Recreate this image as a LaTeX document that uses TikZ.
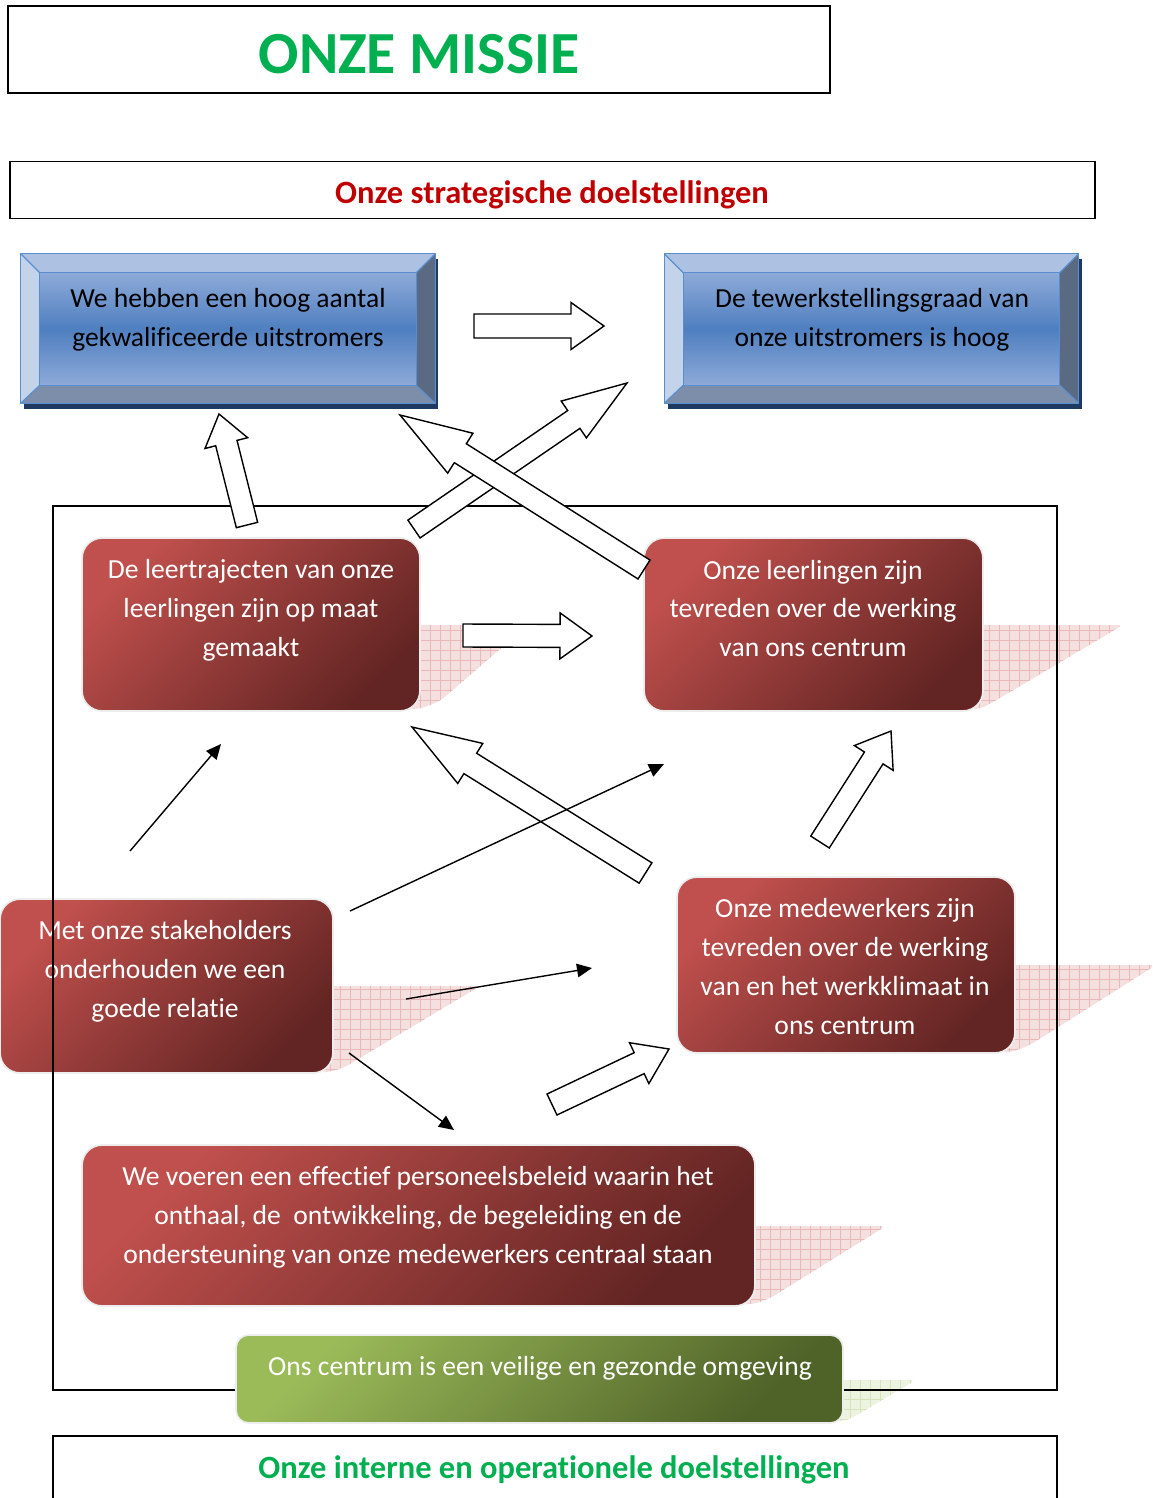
\documentclass[tikz,border=0pt]{standalone}
\usepackage{fontspec}
\setmainfont{Carlito}[Ligatures={NoCommon,NoRequired,NoContextual},RawFeature={-liga;-clig;-dlig}]
\usetikzlibrary{calc,arrows.meta}
\definecolor{titlegreen}{HTML}{00B050}
\definecolor{titlered}{HTML}{C00000}
\definecolor{redA}{HTML}{C0504D}
\definecolor{redB}{HTML}{632523}
\definecolor{greenA}{HTML}{9BBB59}
\definecolor{greenB}{HTML}{4F6228}
\definecolor{bevTop}{HTML}{ADC2E3}
\definecolor{bevLeft}{HTML}{C3D3EA}
\definecolor{bevRight}{HTML}{5A6A82}
\definecolor{bevBot}{HTML}{7D8EAA}
\definecolor{faceA}{HTML}{8EAAD8}
\definecolor{faceB}{HTML}{4F7FC0}
\definecolor{bevLine}{HTML}{5B8ECF}
\definecolor{blueShadow}{HTML}{1F3A60}
\definecolor{pinkFill}{HTML}{F5E0E0}
\definecolor{pinkGrid}{HTML}{E9B8B8}
\definecolor{lgFill}{HTML}{EDF3E1}
\definecolor{lgGrid}{HTML}{D5E3BA}
\newcommand\blockarrow[5]{%
  \path ($(#2)!#5*0.02cm!(#1)$) coordinate (#2base);
  \draw[blockarr] ($(#1)!#3*0.02cm!90:(#2)$) -- ($(#2base)!#3*0.02cm!-90:(#1)$)
    -- ($(#2base)!#4*0.02cm!-90:(#1)$) -- (#2) -- ($(#2base)!#4*0.02cm!90:(#1)$)
    -- ($(#2base)!#3*0.02cm!90:(#1)$) -- ($(#1)!#3*0.02cm!-90:(#2)$) -- cycle;
}
\newcommand\bevelbox[2]{%
  \fill[blueShadow] ($(#2)+(-204,-70)$) rectangle ($(#2)+(210,80)$);
  \node[bluebox] (#1) at (#2) {};
  \fill[bevTop] (#1.north west) -- (#1.north east) -- ($(#1.north east)+(-19,19)$) -- ($(#1.north west)+(19,19)$) -- cycle;
  \fill[bevLeft] (#1.north west) -- ($(#1.north west)+(19,19)$) -- ($(#1.south west)+(19,-18)$) -- (#1.south west) -- cycle;
  \fill[bevRight] (#1.north east) -- (#1.south east) -- ($(#1.south east)+(-19,-18)$) -- ($(#1.north east)+(-19,19)$) -- cycle;
  \fill[bevBot] (#1.south west) -- (#1.south east) -- ($(#1.south east)+(-19,-18)$) -- ($(#1.south west)+(19,-18)$) -- cycle;
  \shade[top color=faceA, bottom color=faceA, middle color=faceB] ($(#1.north west)+(19,19)$) rectangle ($(#1.south east)+(-19,-18)$);
  \draw[bevline] (#1.north west) rectangle (#1.south east);
  \draw[bevline] ($(#1.north west)+(19,19)$) rectangle ($(#1.south east)+(-19,-18)$);
  \draw[bevline] (#1.north west) -- ($(#1.north west)+(19,19)$);
  \draw[bevline] (#1.north east) -- ($(#1.north east)+(-19,19)$);
  \draw[bevline] (#1.south west) -- ($(#1.south west)+(19,-18)$);
  \draw[bevline] (#1.south east) -- ($(#1.south east)+(-19,-18)$);
}
\newcommand\gridshadow[3]{%
  \begin{scope}
    \clip[rounded corners=0.12cm] #1;
    \fill[#2] (0,0) rectangle (1153,1498);
    \draw[#3, line width=0.35pt, step=0.2cm] (0,0) grid (1153,1498);
  \end{scope}
}
\begin{document}
\begin{tikzpicture}[x=0.02cm,y=-0.02cm,
  framebox/.style={draw=black,line width=0.85pt},
  blockarr/.style={draw=black,fill=white,line width=0.8pt,line join=miter},
  thinarr/.style={draw=black,line width=0.8pt,-{Triangle[length=0.3cm,width=0.27cm]}},
  bluebox/.style={minimum width=8.28cm,minimum height=2.98cm,inner sep=0pt},
  bevline/.style={draw=bevLine,line width=0.7pt},
  bluetext/.style={align=center,text=black,font=\fontsize{15.7}{22.1}\selectfont,inner sep=0pt},
  redbox/.style={rounded corners=0.4cm,draw=black!7,line width=1pt,top color=redA,bottom color=redB,shading angle=45,inner sep=0pt},
  greenbox/.style={rounded corners=0.25cm,draw=black!7,line width=1pt,top color=greenA,bottom color=greenB,shading angle=45,inner sep=0pt},
  whitetext/.style={align=center,text=white,font=\fontsize{15.7}{22.1}\selectfont,inner sep=0pt},
  headtext/.style={font=\bfseries\fontsize{18.5}{22}\selectfont,inner sep=0pt,anchor=base}]
\useasboundingbox (0,0) rectangle (1153,1498);

% title and header
\node[framebox,minimum width=16.44cm,minimum height=1.74cm,inner sep=0pt] (title) at (419,49.5) {};
\node[inner sep=0pt,anchor=base,text=titlegreen,font=\bfseries\fontsize{34}{40}\selectfont] (titlet) at (419,73) {ONZE MISSIE};
\node[framebox,minimum width=21.7cm,minimum height=1.14cm,inner sep=0pt] (strat) at (552.5,190) {};
\node[headtext,text=titlered] (stratt) at (552,203) {Onze strategische doelstellingen};

% blue bevel boxes
\bevelbox{g1}{228,328.5}
\node[bluetext] (g1t) at (228,320) {We hebben een hoog aantal\\gekwalificeerde uitstromers};
\bevelbox{g2}{871.5,328.5}
\node[bluetext] (g2t) at (872,320) {De tewerkstellingsgraad van\\onze uitstromers is hoog};

% shadows under the frame
\gridshadow{(320,986) -- (480,986) -- (345,1067) -- (330,1072) -- (320,1072) -- cycle}{pinkFill}{pinkGrid}
\gridshadow{(970,625) -- (1123,625) -- (995,701) -- (980,709) -- (970,709) -- cycle}{pinkFill}{pinkGrid}
\gridshadow{(1000,965) -- (1156,965) -- (1030,1045) -- (1012,1052) -- (1000,1052) -- cycle}{pinkFill}{pinkGrid}
\gridshadow{(830,1380) -- (916,1380) -- (852,1418) -- (843,1421) -- (830,1421) -- cycle}{lgFill}{lgGrid}
\gridshadow{(400,625) -- (528,625) -- (440,701) -- (420,709) -- (400,709) -- cycle}{pinkFill}{pinkGrid}
\gridshadow{(740,1226) -- (886,1226) -- (772,1297) -- (755,1304) -- (740,1304) -- cycle}{pinkFill}{pinkGrid}

% box under the frame
\node[redbox,minimum width=6.66cm,minimum height=3.48cm] (b3) at (166.5,986) {};
\node[whitetext] (b3t) at (165,971.5) {Met onze stakeholders\\onderhouden we een\\goede relatie};

% frame
\node[framebox,minimum width=20.08cm,minimum height=17.68cm,inner sep=0pt] (frame) at (555,948) {};

% red boxes
\node[redbox,minimum width=6.76cm,minimum height=3.46cm] (b1) at (251,624.5) {};
\node[whitetext] (b1t) at (251,610.5) {De leertrajecten van onze\\leerlingen zijn op maat\\gemaakt};
\node[redbox,minimum width=6.78cm,minimum height=3.46cm] (b2) at (813.5,624.5) {};
\node[whitetext] (b2t) at (813,608.5) {Onze leerlingen zijn\\tevreden over de werking\\van ons centrum};
\node[redbox,minimum width=6.76cm,minimum height=3.52cm] (b4) at (846,965) {};
\node[whitetext] (b4t) at (845,966.5) {Onze medewerkers zijn\\tevreden over de werking\\van en het werkklimaat in\\ons centrum};
\node[redbox,minimum width=13.46cm,minimum height=3.22cm] (b5) at (418.5,1225.5) {};
\node[whitetext] (b5t) at (418,1217.5) {We voeren een effectief personeelsbeleid waarin het\\onthaal, de\ \ ontwikkeling, de begeleiding en de\\ondersteuning van onze medewerkers centraal staan};
\node[greenbox,minimum width=12.14cm,minimum height=1.76cm] (gr) at (539.5,1379) {};
\node[whitetext] (grt) at (540,1368) {Ons centrum is een veilige en gezonde omgeving};

% bottom header (open at the bottom)
\draw[framebox] (53,1510) -- (53,1436) -- (1057,1436) -- (1057,1510);
\node[headtext,text=titlegreen] (intt) at (554,1478) {Onze interne en operationele doelstellingen};

% block arrows
\coordinate (a1s) at (474,326); \coordinate (a1e) at (604,326);
\blockarrow{a1s}{a1e}{12}{23.5}{33}
\coordinate (a4s) at (247,525); \coordinate (a4e) at (219,414);
\blockarrow{a4s}{a4e}{11}{22}{30}
\coordinate (a2s) at (414,529); \coordinate (a2e) at (627,383);
\blockarrow{a2s}{a2e}{10.8}{22.3}{64.5}
\coordinate (a3s) at (644,569.5); \coordinate (a3e) at (400,415);
\blockarrow{a3s}{a3e}{11.2}{23.6}{71.4}
\coordinate (a5s) at (463,635.5); \coordinate (a5e) at (592,636);
\blockarrow{a5s}{a5e}{11.5}{23}{32}
\coordinate (a6s) at (645.5,873); \coordinate (a6e) at (412,727);
\blockarrow{a6s}{a6e}{12}{23.6}{68.7}
\coordinate (a7s) at (552,1104.5); \coordinate (a7e) at (669,1049);
\blockarrow{a7s}{a7e}{11.6}{22.6}{33}
\coordinate (a8s) at (820,842); \coordinate (a8e) at (891,731);
\blockarrow{a8s}{a8e}{11}{23}{32}

% thin arrows
\coordinate (t1s) at (130,851); \coordinate (t1e) at (221,744);
\coordinate (t2s) at (350,911); \coordinate (t2e) at (664,764);
\coordinate (t3s) at (406,999); \coordinate (t3e) at (592,968);
\coordinate (t4s) at (349,1053); \coordinate (t4e) at (454,1130);
\draw[thinarr] (t1s) -- (t1e);
\draw[thinarr] (t2s) -- (t2e);
\draw[thinarr] (t3s) -- (t3e);
\draw[thinarr] (t4s) -- (t4e);
\end{tikzpicture}
\end{document}
